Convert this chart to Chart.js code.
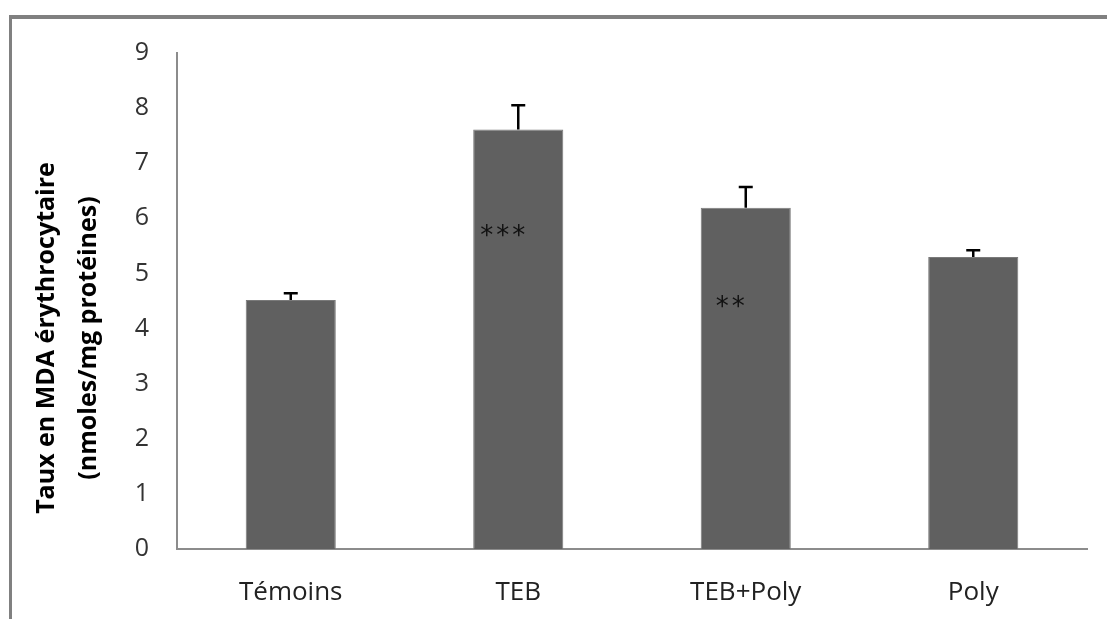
<!DOCTYPE html>
<html>
<head>
<meta charset="utf-8">
<script src="https://cdn.jsdelivr.net/npm/chart.js@4"></script>
<style>
  html, body { margin: 0; padding: 0; background: #fff; }
  #graf { display: block; }
</style>
</head>
<body>
<canvas id="graf" width="1107" height="619"></canvas>
<script>
// données
const categories = ['Témoins', 'TEB', 'TEB+Poly', 'Poly'];
const moyennes = [4.52, 7.61, 6.19, 5.30];
const erreurs = [0.12, 0.44, 0.38, 0.12];
const etoiles = ['', '***', '**', ''];
const etoilesY = [null, 5.78, 4.50, null];
const yTicks = [0, 1, 2, 3, 4, 5, 6, 7, 8, 9];
const titreY = ['Taux en MDA érythrocytaire', '(nmoles/mg protéines)'];

const police = '"Open Sans", sans-serif';

// cadre gris (haut + gauche) et titre de l'axe Y
const cadre = {
  id: 'cadre',
  beforeDraw(chart) {
    const c = chart.ctx;
    c.save();
    c.strokeStyle = '#808080';
    c.lineWidth = 4;
    c.beginPath();
    c.moveTo(9, 17);
    c.lineTo(chart.width, 17);
    c.stroke();
    c.lineWidth = 3;
    c.beginPath();
    c.moveTo(10.5, 15);
    c.lineTo(10.5, chart.height);
    c.stroke();
    c.restore();
  },
  afterDraw(chart) {
    const c = chart.ctx;
    c.save();
    c.translate(68, 338);
    c.rotate(-Math.PI / 2);
    c.fillStyle = '#000';
    c.font = 'bold 25px ' + police;
    c.textAlign = 'center';
    c.textBaseline = 'middle';
    c.fillText(titreY[0], 0, -21);
    c.fillText(titreY[1], 0, 21);
    c.restore();
  }
};

// barres d'erreur (vers le haut) + étoiles de significativité
const erreursPlugin = {
  id: 'erreurs',
  afterDatasetsDraw(chart) {
    const c = chart.ctx;
    const y = chart.scales.y;
    const meta = chart.getDatasetMeta(0);
    c.save();
    meta.data.forEach((bar, i) => {
      const haut = y.getPixelForValue(moyennes[i] + erreurs[i]);
      c.strokeStyle = '#000';
      c.lineWidth = 2.5;
      c.beginPath();
      c.moveTo(bar.x, bar.y);
      c.lineTo(bar.x, haut);
      c.moveTo(bar.x - 7, haut);
      c.lineTo(bar.x + 7, haut);
      c.stroke();
      if (etoiles[i]) {
        c.fillStyle = '#111';
        c.font = '26px "DejaVu Sans", sans-serif';
        c.textAlign = 'center';
        c.textBaseline = 'middle';
        c.letterSpacing = '3px';
        c.fillText(etoiles[i], bar.x - 14, y.getPixelForValue(etoilesY[i]) + 7);
      }
    });
    c.restore();
  }
};

new Chart(document.getElementById('graf').getContext('2d'), {
  type: 'bar',
  data: {
    labels: categories,
    datasets: [{
      data: moyennes,
      backgroundColor: '#606060',
      borderColor: '#7a7a7a',
      borderWidth: 1,
      categoryPercentage: 1,
      barPercentage: 0.396
    }]
  },
  options: {
    responsive: false,
    animation: false,
    layout: { padding: { top: 53, right: 20, left: 0, bottom: 0 } },
    plugins: {
      legend: { display: false },
      tooltip: { enabled: false }
    },
    scales: {
      x: {
        grid: { display: false, drawTicks: false },
        border: { color: '#8c8c8c', width: 2 },
        ticks: { color: '#222', padding: 28, font: { family: police, size: 26 } },
        afterFit(scale) { scale.height = 70; }
      },
      y: {
        min: 0,
        max: 9,
        afterBuildTicks(scale) { scale.ticks = yTicks.map(v => ({ value: v })); },
        grid: { display: false, drawTicks: false },
        border: { color: '#8c8c8c', width: 2 },
        ticks: { color: '#333', padding: 28, font: { family: police, size: 25 } },
        afterFit(scale) { scale.width = 177; }
      }
    }
  },
  plugins: [cadre, erreursPlugin]
});
</script>
</body>
</html>
